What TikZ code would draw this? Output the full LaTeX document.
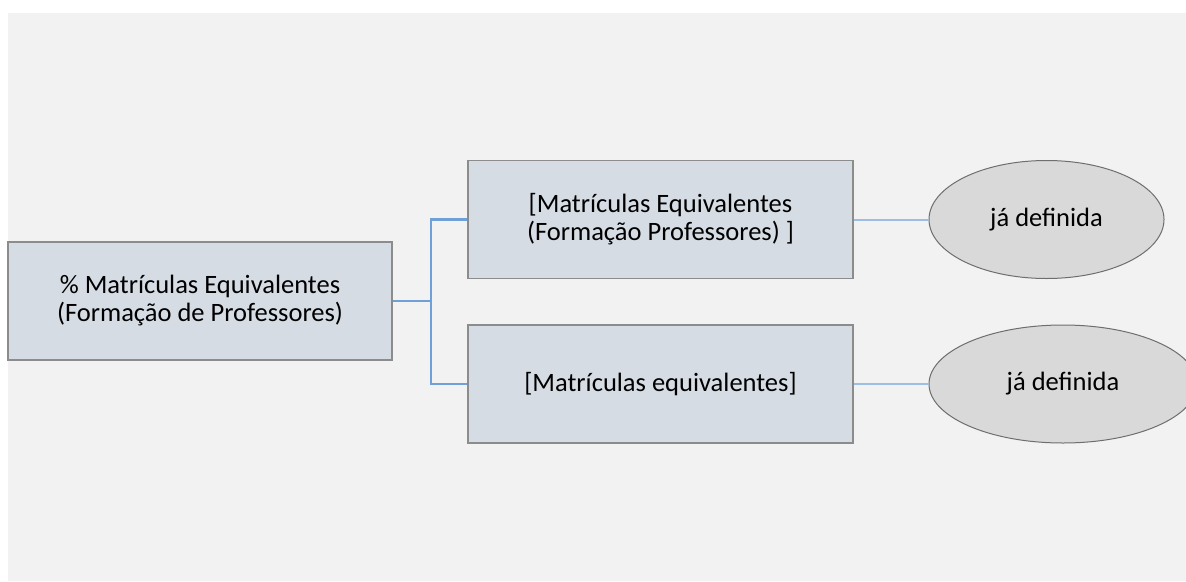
\documentclass[tikz,border=0pt]{standalone}
\usepackage{fontspec}
\setmainfont{Carlito}
\usepackage{xcolor}
\usetikzlibrary{shapes.geometric,positioning}
\definecolor{bgpanel}{HTML}{F2F2F2}
\definecolor{boxfill}{HTML}{D5DCE4}
\definecolor{boxline}{HTML}{8C8C8C}
\definecolor{ovalfill}{HTML}{D9D9D9}
\definecolor{ovalline}{HTML}{6E6E6E}
\definecolor{linkdark}{HTML}{6FA0D8}
\definecolor{linklight}{HTML}{9DBDE2}

\begin{document}
\begin{tikzpicture}[x=1pt,y=-1pt,
  every node/.style={font=\fontsize{26.5}{28}\selectfont},
  mbox/.style={draw=boxline,fill=boxfill,line width=1.5pt,minimum width=384pt,
    minimum height=118pt,align=center,inner sep=0pt},
  oval/.style={ellipse,draw=ovalline,fill=ovalfill,line width=1pt,inner sep=0pt},
  link/.style={linkdark,line width=2.2pt},
  linkl/.style={linklight,line width=2pt}]
\useasboundingbox (0,0) rectangle (1186,581);
\fill[white] (0,0) rectangle (1186,581);
\fill[bgpanel] (8,13) rectangle (1186,581);
\node[mbox,minimum width=384pt] (pct) at (200,301)
  {\% Matrículas Equivalentes\\(Formação de Professores)};
\node[mbox,minimum width=385pt] (eqfp) at (660.5,219.5)
  {[Matrículas Equivalentes\\(Formação Professores) ]};
\node[mbox,minimum width=385pt] (eq) at (660.5,384)
  {[Matrículas equivalentes]};
\node[oval,minimum width=235pt,minimum height=118pt] (def1) at (1046.5,219.5) {já definida};
\node[oval,minimum width=268pt,minimum height=118pt] (def2) at (1063,384) {já definida};
\coordinate[right=38pt of pct.east] (fork);
\draw[link] (pct.east) -- (fork);
\draw[link] (fork) |- (eqfp.west);
\draw[link] (fork) |- (eq.west);
\draw[linkl] (eqfp.east) -- (def1.west);
\draw[linkl] (eq.east) -- (def2.west);
\end{tikzpicture}
\end{document}
